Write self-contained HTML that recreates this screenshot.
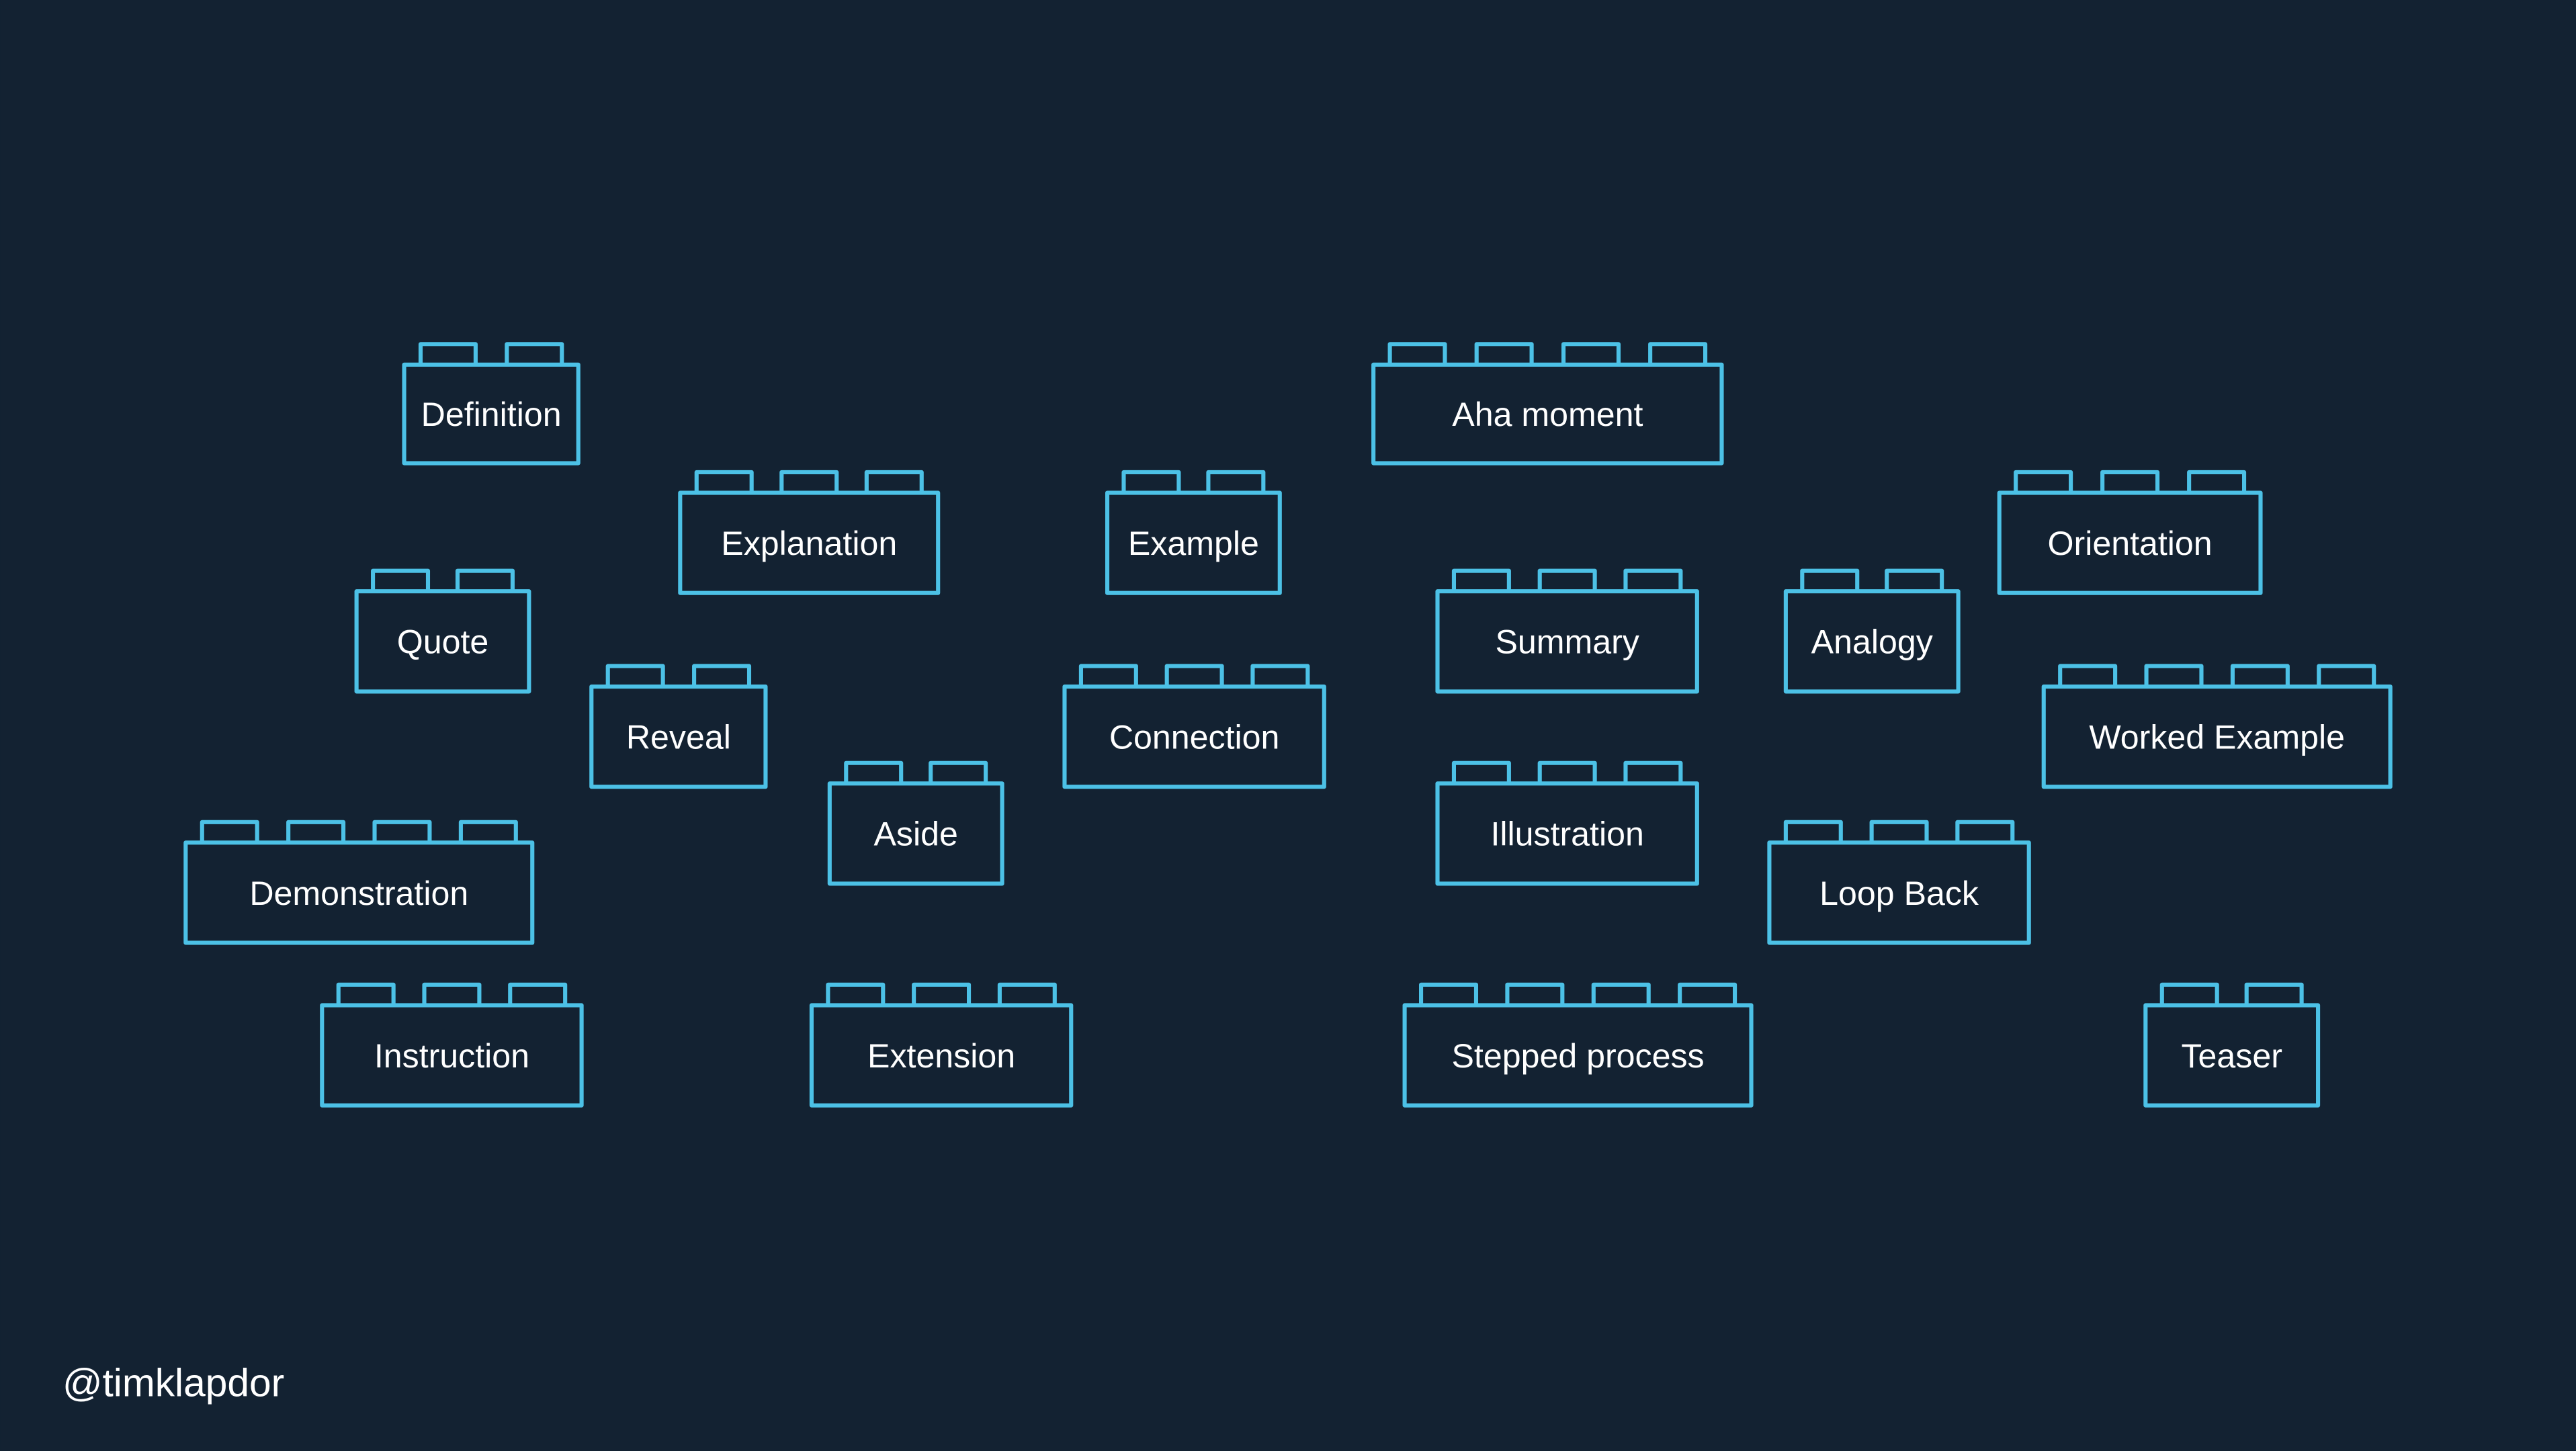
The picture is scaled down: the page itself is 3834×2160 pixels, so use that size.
<!DOCTYPE html>
<html><head><meta charset="utf-8"><style>
html,body{margin:0;padding:0;background:#132232;}
svg{display:block}
text{font-family:"Liberation Sans",Arial,sans-serif;fill:#fff;}
</style></head><body>
<svg width="3834" height="2160" viewBox="0 0 1568 883.4" xmlns="http://www.w3.org/2000/svg">
<rect width="1568" height="884" fill="#132232"/>
<g fill="none" stroke="#4cc1e6" stroke-width="2.5" stroke-linejoin="round">
<rect x="246" y="222" width="106" height="60"/>
<path d="M256 222v-12.5h33.5v12.5M308.5 222v-12.5h33.5v12.5"/>
<rect x="836" y="222" width="212" height="60"/>
<path d="M846 222v-12.5h33.5v12.5M898.8 222v-12.5h33.5v12.5M951.7 222v-12.5h33.5v12.5M1004.5 222v-12.5h33.5v12.5"/>
<rect x="414" y="300" width="157" height="61"/>
<path d="M424 300v-12.5h33.5v12.5M475.75 300v-12.5h33.5v12.5M527.5 300v-12.5h33.5v12.5"/>
<rect x="674" y="300" width="105" height="61"/>
<path d="M684 300v-12.5h33.5v12.5M735.5 300v-12.5h33.5v12.5"/>
<rect x="1217" y="300" width="159" height="61"/>
<path d="M1227 300v-12.5h33.5v12.5M1279.75 300v-12.5h33.5v12.5M1332.5 300v-12.5h33.5v12.5"/>
<rect x="217" y="360" width="105" height="61"/>
<path d="M227 360v-12.5h33.5v12.5M278.5 360v-12.5h33.5v12.5"/>
<rect x="875" y="360" width="158" height="61"/>
<path d="M885 360v-12.5h33.5v12.5M937.25 360v-12.5h33.5v12.5M989.5 360v-12.5h33.5v12.5"/>
<rect x="1087" y="360" width="105" height="61"/>
<path d="M1097 360v-12.5h33.5v12.5M1148.5 360v-12.5h33.5v12.5"/>
<rect x="360" y="418" width="106" height="61"/>
<path d="M370 418v-12.5h33.5v12.5M422.5 418v-12.5h33.5v12.5"/>
<rect x="648" y="418" width="158" height="61"/>
<path d="M658 418v-12.5h33.5v12.5M710.25 418v-12.5h33.5v12.5M762.5 418v-12.5h33.5v12.5"/>
<rect x="1244" y="418" width="211" height="61"/>
<path d="M1254 418v-12.5h33.5v12.5M1306.5 418v-12.5h33.5v12.5M1359 418v-12.5h33.5v12.5M1411.5 418v-12.5h33.5v12.5"/>
<rect x="505" y="477" width="105" height="61"/>
<path d="M515 477v-12.5h33.5v12.5M566.5 477v-12.5h33.5v12.5"/>
<rect x="875" y="477" width="158" height="61"/>
<path d="M885 477v-12.5h33.5v12.5M937.25 477v-12.5h33.5v12.5M989.5 477v-12.5h33.5v12.5"/>
<rect x="113" y="513" width="211" height="61"/>
<path d="M123 513v-12.5h33.5v12.5M175.5 513v-12.5h33.5v12.5M228 513v-12.5h33.5v12.5M280.5 513v-12.5h33.5v12.5"/>
<rect x="1077" y="513" width="158" height="61"/>
<path d="M1087 513v-12.5h33.5v12.5M1139.25 513v-12.5h33.5v12.5M1191.5 513v-12.5h33.5v12.5"/>
<rect x="196" y="612" width="158" height="61"/>
<path d="M206 612v-12.5h33.5v12.5M258.25 612v-12.5h33.5v12.5M310.5 612v-12.5h33.5v12.5"/>
<rect x="494" y="612" width="158" height="61"/>
<path d="M504 612v-12.5h33.5v12.5M556.25 612v-12.5h33.5v12.5M608.5 612v-12.5h33.5v12.5"/>
<rect x="855" y="612" width="211" height="61"/>
<path d="M865 612v-12.5h33.5v12.5M917.5 612v-12.5h33.5v12.5M970 612v-12.5h33.5v12.5M1022.5 612v-12.5h33.5v12.5"/>
<rect x="1306" y="612" width="105" height="61"/>
<path d="M1316 612v-12.5h33.5v12.5M1367.5 612v-12.5h33.5v12.5"/>
</g>
<g font-size="20.5" text-anchor="middle">
<text x="299" y="259.3">Definition</text>
<text x="942" y="259.3">Aha moment</text>
<text x="492.5" y="337.8">Explanation</text>
<text x="726.5" y="337.8">Example</text>
<text x="1296.5" y="337.8">Orientation</text>
<text x="269.5" y="397.8">Quote</text>
<text x="954" y="397.8">Summary</text>
<text x="1139.5" y="397.8">Analogy</text>
<text x="413" y="455.8">Reveal</text>
<text x="727" y="455.8">Connection</text>
<text x="1349.5" y="455.8">Worked Example</text>
<text x="557.5" y="514.8">Aside</text>
<text x="954" y="514.8">Illustration</text>
<text x="218.5" y="550.8">Demonstration</text>
<text x="1156" y="550.8">Loop Back</text>
<text x="275" y="649.8">Instruction</text>
<text x="573" y="649.8">Extension</text>
<text x="960.5" y="649.8">Stepped process</text>
<text x="1358.5" y="649.8">Teaser</text>
</g>
<text x="38" y="850" font-size="24">@timklapdor</text>
</svg>
</body></html>
